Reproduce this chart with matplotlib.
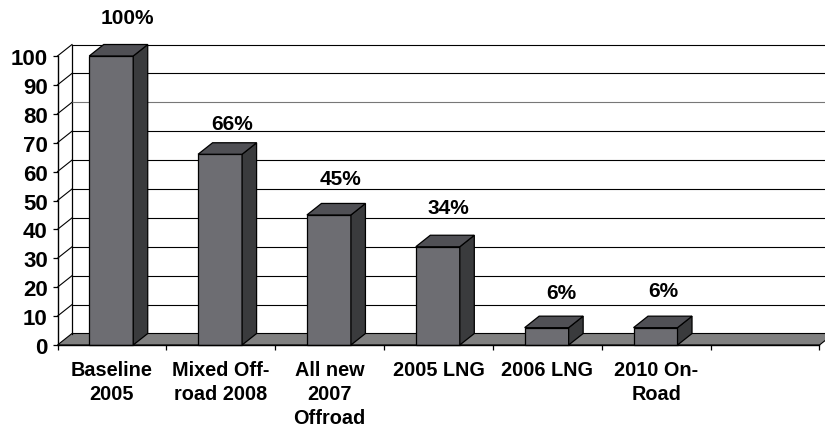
import matplotlib
matplotlib.use('Agg')
import matplotlib.pyplot as plt
from matplotlib.patches import Polygon

plt.rcParams['font.family'] = ['Liberation Sans', 'DejaVu Sans']
plt.rcParams['font.weight'] = 'bold'

# Data
categories = ['Baseline\n2005', 'Mixed Off-\nroad 2008', 'All new\n2007\nOffroad',
              '2005 LNG', '2006 LNG', '2010 On-\nRoad', '']
values = [100, 66, 45, 34, 6, 6]
labels = ['100%', '66%', '45%', '34%', '6%', '6%']
y_ticks = list(range(0, 101, 10))

W, H = 825, 431
fig = plt.figure(figsize=(W / 100, H / 100), dpi=100)
ax = fig.add_axes([57.5 / W, (H - 346) / H, 762 / W, 289 / H])
ax.set_xlim(0, 7)
ax.set_ylim(0, 100)
ax.patch.set_visible(False)

# depth of the fake 3d box, data units
dx = 14.5 / (762 / 7)
dy = 11.5 / 2.89
bw = 44 / (762 / 7)
nudge = -0.7 / (762 / 7)

# floor
ax.add_patch(Polygon([(0, 0), (7, 0), (7 + dx, dy), (dx, dy)], closed=True, fc='#808080',
                     ec='black', lw=0.8, clip_on=False, zorder=1))

# back wall and grid
ax.plot([dx, dx], [dy, 100 + dy], color='black', lw=0.9, clip_on=False, zorder=1)
for t in y_ticks[1:]:
    c = '#777777' if t == 80 else 'black'
    ax.plot([dx, 7 + dx], [t + dy, t + dy], color=c, lw=0.8, clip_on=False, zorder=1)
    ax.plot([0, dx], [t, t + dy], color='black', lw=0.8, clip_on=False, zorder=1)

# bars
label_gap = [27, 19, 25, 28, 24, 26]  # px above the box
label_shift = [8, 4, 4, 3, 7, 0]
for i, v in enumerate(values):
    x0 = i + 0.5 - bw / 2 + nudge
    x1 = i + 0.5 + bw / 2 + nudge
    ax.add_patch(Polygon([(x0, 0), (x1, 0), (x1, v), (x0, v)], closed=True, fc='#6d6d72',
                         ec='black', lw=0.9, clip_on=False, zorder=3))
    ax.add_patch(Polygon([(x1, 0), (x1 + dx, dy), (x1 + dx, v + dy), (x1, v)], closed=True,
                         fc='#3a3b3d', ec='black', lw=0.9, clip_on=False, zorder=3))
    ax.add_patch(Polygon([(x0, v), (x1, v), (x1 + dx, v + dy), (x0 + dx, v + dy)], closed=True,
                         fc='#505055', ec='black', lw=0.9, clip_on=False, zorder=3))
    ax.annotate(labels[i], (i + 0.5 + dx / 2, v + dy),
                xytext=(label_shift[i] * 0.72, label_gap[i] * 0.72),
                textcoords='offset points', ha='center', va='center', fontsize=15,
                fontweight='bold', color='black', annotation_clip=False, zorder=4)

# axes
for s in ['top', 'right']:
    ax.spines[s].set_visible(False)
for s in ['left', 'bottom']:
    ax.spines[s].set_linewidth(1)
    ax.spines[s].set_zorder(5)

ax.set_yticks(y_ticks)
ax.set_yticklabels([str(t) for t in y_ticks], fontsize=16, fontweight='bold')
ax.tick_params(axis='y', length=3.5, width=0.9, pad=3.5)

ax.set_xticks(range(8))
ax.set_xticklabels([])
ax.set_xticks([i + 0.5 for i in range(7)], minor=True)
ax.set_xticklabels(categories, minor=True, fontsize=14.3, fontweight='bold', linespacing=1.34)
ax.tick_params(axis='x', which='major', length=3.5, width=0.9)
ax.tick_params(axis='x', which='minor', length=0, pad=10.5)

plt.savefig('out.png', dpi=100)
